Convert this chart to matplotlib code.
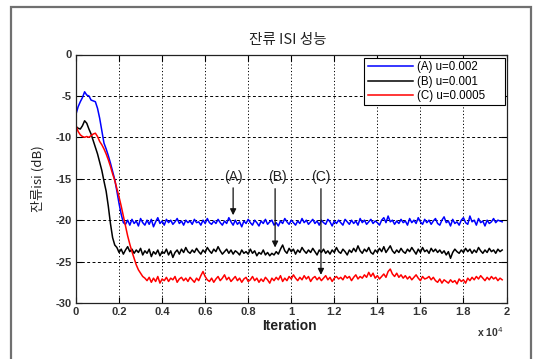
import numpy as np
import matplotlib
matplotlib.use("Agg")
import matplotlib.pyplot as plt
from matplotlib.ticker import FuncFormatter, FixedLocator
from matplotlib.patches import Rectangle

plt.rcParams['font.family'] = ['Liberation Sans', 'Noto Sans CJK KR', 'DejaVu Sans']

# ---------------- data ----------------
step = 100
title = "잔류 ISI 성능"
xlabel = "Iteration"
ylabel = "잔류isi (dB)"
labels = ["(A) u=0.002", "(B) u=0.001", "(C) u=0.0005"]
colors = ["#0000ff", "#000000", "#ff0000"]

isi_a = [
    -7.2, -6.3, -5.7, -5.2, -4.5, -4.9, -5.0, -5.5, -5.6, -5.7,
    -6.5, -7.7, -9.2, -10.7, -11.4, -12.2, -13.1, -14.1, -15.1, -16.5,
    -18.0, -19.3, -20.3,
    -20.5, -20.0, -20.6, -19.9, -20.4, -20.1, -20.7, -19.8, -20.3, -20.6,
    -20.0, -20.5, -19.9, -20.8, -20.2, -19.7, -20.4, -20.1, -20.6, -19.9,
    -20.3, -20.0, -20.5, -20.2, -19.8, -20.4, -20.1, -20.6, -20.0, -20.3,
    -20.1, -20.5, -19.9, -20.3, -20.2, -20.6, -20.0, -20.4, -19.8, -20.3,
    -20.5, -20.1, -20.4, -19.9, -20.3, -20.6, -20.1, -20.4, -19.7, -20.2,
    -20.6, -20.0, -20.5, -20.2, -20.8, -20.1, -20.4, -19.9, -20.3, -20.6,
    -20.0, -20.3, -20.7, -20.1, -20.4, -19.9, -20.5, -20.2, -20.0, -20.6,
    -20.3, -20.7, -20.1, -20.4, -19.8, -20.2, -20.5, -20.0, -20.3, -20.6,
    -20.1, -20.4, -19.8, -20.3, -20.0, -20.5, -20.2, -19.9, -20.4, -20.1,
    -20.6, -20.0, -20.3, -20.5, -19.9, -20.2, -20.7, -20.1, -20.4, -20.0,
    -20.3, -20.6, -19.9, -20.2, -20.5, -20.0, -20.4, -20.1, -20.6, -19.8,
    -20.3, -20.0, -20.5, -20.2, -19.9, -20.4, -20.1, -20.3, -20.6, -20.0,
    -19.7, -20.3, -19.5, -20.2, -20.0, -20.5, -20.1, -20.4, -19.9, -20.3,
    -20.1, -20.6, -19.8, -20.3, -20.0, -20.4, -19.7, -20.2, -20.5, -19.9,
    -20.3, -20.0, -20.5, -20.1, -19.8, -20.4, -20.6, -20.0, -19.6, -20.3,
    -20.1, -20.7, -19.9, -20.4, -20.2, -20.6, -20.0, -19.7, -20.3, -20.5,
    -19.5, -20.2, -20.0, -20.6, -19.8, -20.3, -20.1, -20.7, -20.0, -20.4,
    -20.2, -19.8, -20.3, -20.0, -20.1, -20.2,
]

isi_b = [
    -8.7, -8.9, -9.0, -8.6, -8.0, -8.3, -9.0, -9.6, -10.4, -11.2,
    -12.0, -13.0, -14.0, -15.3, -16.5, -18.3, -20.4, -22.1, -23.0,
    -23.3, -23.9, -23.5, -24.1, -23.6, -23.2, -23.8, -23.5, -24.0, -23.6,
    -23.9, -23.4, -24.2, -23.7, -24.0, -23.5, -24.4, -23.8, -24.1, -23.6,
    -24.3, -23.8, -24.0, -23.5, -24.2, -23.7, -24.5, -23.9, -23.6, -24.1,
    -23.5, -23.9, -23.3, -23.8, -24.0, -23.6, -23.9, -23.4, -23.8, -24.1,
    -23.6, -23.9, -23.3, -23.7, -24.0, -23.5, -23.8, -23.2, -23.7, -24.1,
    -23.8, -23.5, -24.0, -23.6, -24.1, -23.7, -23.9, -24.2, -23.6, -24.0,
    -23.8, -24.1, -23.5, -24.0, -23.7, -24.3, -23.9, -24.1, -23.6, -24.2,
    -23.9, -24.3, -24.0, -24.2, -23.8, -24.1, -23.5, -23.0, -23.7, -24.0,
    -23.4, -23.8, -23.5, -24.1, -23.6, -23.9, -23.3, -23.7, -24.0, -23.6,
    -23.9, -23.4, -23.8, -24.2, -23.6, -23.9, -23.5, -24.0, -23.7, -24.1,
    -23.6, -23.9, -23.3, -23.8, -24.0, -23.5, -23.8, -24.2, -23.6, -23.9,
    -23.4, -23.8, -23.1, -23.7, -24.0, -23.5, -23.8, -23.3, -23.9, -24.1,
    -23.6, -23.9, -23.4, -23.8, -23.2, -23.9, -23.5, -23.1, -23.7, -24.0,
    -23.6, -23.9, -23.4, -23.8, -24.0, -23.5, -23.8, -23.3, -23.7, -24.1,
    -23.5, -23.9, -23.3, -23.8, -23.6, -24.0, -23.4, -23.8, -23.5, -23.9,
    -23.6, -24.0, -23.7, -24.2, -23.8, -24.6, -23.9, -23.5, -23.8, -24.0,
    -23.6, -23.9, -23.4, -23.8, -23.5, -24.0, -23.6, -23.9, -23.3, -23.7,
    -24.0, -23.6, -23.9, -23.4, -23.8, -23.6, -24.0, -23.5, -23.8, -23.6,
]

isi_c = [
    -8.6, -9.3, -9.7, -9.9, -10.0, -9.9, -10.0, -9.8, -9.6, -9.5,
    -9.9, -10.5, -10.9, -11.4, -12.0, -12.7, -13.5, -14.4, -15.2, -16.2,
    -17.2, -18.3, -19.5, -20.7, -21.9, -22.9, -23.8, -24.6, -25.4, -26.0,
    -26.4, -26.8, -27.0,
    -27.3, -26.9, -27.5, -27.0, -27.4, -26.8, -27.6, -27.1, -27.3, -26.9,
    -27.4, -27.0, -27.2, -26.8, -27.5, -27.1, -26.9, -27.3, -27.0, -27.4,
    -26.9, -27.2, -27.5, -27.0, -27.3, -26.7, -26.2, -26.8, -27.2, -27.4,
    -27.0, -27.5, -27.1, -26.8, -27.3, -27.0, -26.6, -27.2, -26.9, -27.4,
    -27.1, -26.8, -27.3, -27.0, -27.5, -27.1, -26.9, -27.4, -27.2, -26.8,
    -27.3, -27.0, -27.5, -27.1, -27.4, -26.9, -27.2, -27.6, -27.0, -27.3,
    -26.9, -27.2, -26.7, -27.4, -27.0, -27.3, -26.8, -27.1, -26.6, -27.0,
    -27.3, -26.9, -27.2, -26.7, -27.1, -26.8, -27.4, -27.0, -26.8, -27.2,
    -26.9, -27.3, -27.0, -26.7, -27.2, -26.9, -27.4, -27.0, -26.8, -27.1,
    -26.9, -27.2, -26.7, -27.0, -26.8, -27.3, -26.9, -26.6, -27.1, -26.8,
    -27.0, -26.6, -26.9, -26.3, -26.8, -26.4, -27.0, -26.7, -27.1, -26.8,
    -26.5, -26.9, -26.2, -25.9, -26.5, -26.8, -26.4, -26.9, -26.6, -27.0,
    -26.7, -27.1, -26.8, -27.2, -26.9, -26.6, -27.0, -27.3, -26.8, -27.1,
    -27.0, -26.8, -27.2, -26.9, -27.3, -27.5, -27.1, -27.6, -27.2, -27.4,
    -27.6, -27.2, -27.5, -27.3, -27.7, -27.1, -27.4, -27.2, -27.6, -27.0,
    -27.3, -26.9, -27.2, -26.8, -27.1, -26.7, -27.0, -27.3, -26.9, -27.2,
    -26.8, -27.1, -26.9, -27.3, -27.0, -27.2,
]

# annotations: label, x (iterations), text y, arrow start y, arrow end y
ann_labels = ["(A)", "(B)", "(C)"]
ann_x = [7300, 9250, 11380]
ann_text_y = [-14.8, -14.8, -14.8]
ann_from_y = [-16.1, -16.2, -16.2]
ann_to_y = [-19.4, -23.3, -26.6]
ann_text_dx = [0, 120, 0]

xticks = [0, 2000, 4000, 6000, 8000, 10000, 12000, 14000, 16000, 18000, 20000]
yticks = [0, -5, -10, -15, -20, -25, -30]

# ---------------- figure ----------------
W, H = 535, 359
fig = plt.figure(figsize=(W / 100, H / 100), dpi=100)
fig.patch.set_facecolor('white')

# outer frame
frame = Rectangle((11 / W, -0.2), (531 - 11) / W, 1.2 - 6.7 / H, transform=fig.transFigure,
                  fill=False, edgecolor='#707070', linewidth=1.6, clip_on=False)
fig.patches.append(frame)

ax = fig.add_axes([76 / W, 1 - 303 / H, (506.5 - 76) / W, (303 - 54.5) / H])

for vals, lab, col in zip([isi_a, isi_b, isi_c], labels, colors):
    x = np.arange(len(vals)) * step
    ax.plot(x, vals, color=col, linewidth=1.1, label=lab)

ax.set_xlim(0, 20000)
ax.set_ylim(-30, 0)
ax.xaxis.set_major_locator(FixedLocator(xticks))
ax.yaxis.set_major_locator(FixedLocator(yticks))
ax.xaxis.set_major_formatter(FuncFormatter(lambda v, p: "%g" % (v / 1e4)))
ax.yaxis.set_major_formatter(FuncFormatter(lambda v, p: "%g" % v))

for v in xticks[1:-1]:
    ax.axvline(v, color='black', linestyle=(0, (1.2, 2.2)), linewidth=0.7, zorder=0.5)
for v in yticks[1:-1]:
    ax.axhline(v, color='black', linestyle=(0, (3, 2.5)), linewidth=0.7, zorder=0.5)

ax.tick_params(direction='in', length=4, width=0.8, top=True, right=True,
               labelsize=8, labelcolor='#333333', pad=3)
for lbl in ax.get_xticklabels() + ax.get_yticklabels():
    lbl.set_fontweight('bold')
for s in ax.spines.values():
    s.set_linewidth(0.9)
    s.set_color('#222222')

for lab, x, ty, fy, tyy, dx in zip(ann_labels, ann_x, ann_text_y, ann_from_y, ann_to_y, ann_text_dx):
    ax.text(x + dx, ty, lab, ha='center', va='center', fontsize=10, color='#222222')
    ax.annotate("", xy=(x, tyy), xytext=(x, fy),
                arrowprops=dict(arrowstyle='-|>', color='#111111', lw=0.9,
                                mutation_scale=9, shrinkA=0, shrinkB=0))

# legend: MATLAB-style box
box = Rectangle((364 / W, 1 - 105 / H), (505 - 364) / W, (105 - 58) / H,
                transform=fig.transFigure, facecolor='white', edgecolor='black',
                linewidth=0.8, zorder=4)
fig.patches.append(box)
leg = fig.legend(loc='upper left', bbox_to_anchor=(366 / W, 1 - 59 / H), fontsize=8.3,
                 handlelength=3.9, handletextpad=0.35, labelspacing=0.22,
                 borderpad=0.2, borderaxespad=0.0, frameon=False)
leg.set_zorder(5)

fig.text(288 / W, 1 - 40 / H, title, ha='center', va='center', fontsize=10.5,
         family=['Noto Sans CJK KR', 'DejaVu Sans'], color='#222222')
fig.text(289 / W, 1 - 326 / H, xlabel, ha='center', va='center', fontsize=10,
         fontweight='bold', color='#222222')
fig.text(38 / W, 1 - 179 / H, ylabel, ha='center', va='center', fontsize=9.5,
         rotation=90, family=['Noto Sans CJK KR', 'DejaVu Sans'], color='#222222')
fig.text(490 / W, 1 - 332 / H, r'x 10$^{4}$', ha='center', va='center', fontsize=7.5,
         fontweight='bold', color='#333333')

fig.savefig("out.png", dpi=100)
